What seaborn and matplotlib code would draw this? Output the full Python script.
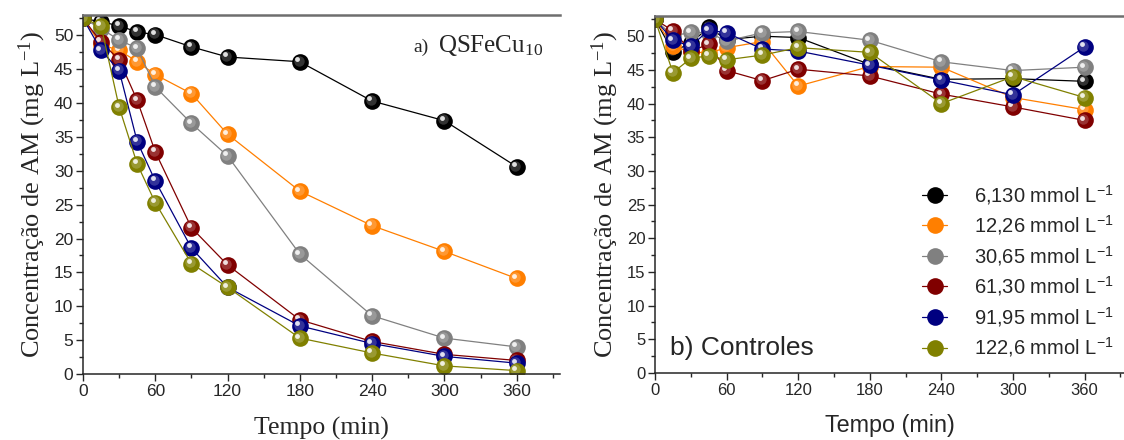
import pandas as pd
import matplotlib.pyplot as plt
import seaborn as sns
import numpy as np
from matplotlib.transforms import offset_copy
from matplotlib.lines import Line2D
from matplotlib.legend_handler import HandlerTuple
from matplotlib.ticker import MultipleLocator

# tempo de coleta (min)
tempo = [0, 15, 30, 45, 60, 90, 120, 180, 240, 300, 360]

rotulos = ['6,130 mmol L', '12,26 mmol L', '30,65 mmol L',
           '61,30 mmol L', '91,95 mmol L', '122,6 mmol L']

# a) QSFeCu10
qsfecu_613 = [52.5, 52.0, 51.4, 50.5, 50.1, 48.3, 46.8, 46.1, 40.3, 37.4, 30.6]
qsfecu_1226 = [52.5, 48.6, 47.8, 46.1, 44.2, 41.4, 35.4, 27.0, 21.9, 18.1, 14.1]
qsfecu_3065 = [52.5, 51.0, 49.3, 48.1, 42.4, 37.0, 32.2, 17.7, 8.6, 5.3, 4.0]
qsfecu_6130 = [52.5, 49.0, 46.4, 40.4, 32.8, 21.6, 16.1, 8.0, 4.8, 2.9, 2.0]
qsfecu_9195 = [52.5, 47.8, 44.8, 34.3, 28.5, 18.6, 12.8, 7.1, 4.5, 2.6, 1.6]
qsfecu_1226b = [52.5, 51.4, 39.4, 31.0, 25.3, 16.3, 12.8, 5.3, 3.1, 1.2, 0.5]

# b) Controles
ctrl_613 = [52.5, 47.7, 49.0, 51.3, 49.5, 50.0, 49.8, 45.8, 43.6, 43.7, 43.3]
ctrl_1226 = [52.5, 48.5, 47.7, 47.5, 48.3, 49.2, 42.6, 45.5, 45.4, 40.9, 39.1]
ctrl_3065 = [52.5, 50.0, 50.6, 50.5, 49.3, 50.5, 50.7, 49.4, 46.2, 44.9, 45.4]
ctrl_6130 = [52.5, 50.8, 47.8, 48.8, 44.9, 43.4, 45.1, 44.1, 41.4, 39.5, 37.5]
ctrl_9195 = [52.5, 49.4, 48.5, 50.9, 50.5, 48.1, 47.8, 45.7, 43.5, 41.3, 48.4]
ctrl_1226b = [52.5, 44.6, 46.7, 47.1, 46.5, 47.2, 48.3, 47.6, 40.0, 44.0, 40.9]

cores = ['black', '#ff7f00', '#808080', '#800000', '#000080', '#808000']

painel_a = [qsfecu_613, qsfecu_1226, qsfecu_3065, qsfecu_6130, qsfecu_9195, qsfecu_1226b]
painel_b = [ctrl_613, ctrl_1226, ctrl_3065, ctrl_6130, ctrl_9195, ctrl_1226b]

sns.set_style('ticks')
plt.rcParams['font.family'] = ['Liberation Sans', 'DejaVu Sans']
plt.rcParams['mathtext.default'] = 'regular'
serif = ['Liberation Serif', 'DejaVu Serif']

fig = plt.figure(figsize=(11.24, 4.4), dpi=100)
ax1 = fig.add_axes([83/1124, 1-374/440, 477/1124, 359/440])
ax2 = fig.add_axes([655/1124, 1-373/440, 469/1124, 357/440])


def esferas(ax, series):
    handles = []
    for vals, cor, rot in zip(series, cores, rotulos):
        df = pd.DataFrame({'Tempo': tempo, 'Conc': vals})
        sns.lineplot(data=df, x='Tempo', y='Conc', color=cor, lw=0.9,
                     marker='o', markersize=12, mec=cor, mew=0,
                     ax=ax, legend=False)
        # brilho da esfera
        tr1 = offset_copy(ax.transData, fig=fig, x=-1.2, y=1.2, units='dots')
        tr2 = offset_copy(ax.transData, fig=fig, x=-2.6, y=2.6, units='dots')
        ax.plot(tempo, vals, 'o', ms=7.5, color='white', alpha=0.2,
                mew=0, transform=tr1)
        ax.plot(tempo, vals, 'o', ms=3.5, color='white', alpha=0.85,
                mew=0, transform=tr2)
        h1 = Line2D([], [], color=cor, lw=0.9, marker='o', ms=12, mew=0)
        h2 = Line2D([], [], ls='none', marker='o', ms=3.5, color='white',
                    alpha=0.85, mew=0)
        handles.append((h1, h2))
    return handles


esferas(ax1, painel_a)
handles = esferas(ax2, painel_b)

for ax, lsize in ((ax1, 12.5), (ax2, 12)):
    ax.set_ylim(0, 53)
    ax.xaxis.set_major_locator(MultipleLocator(60))
    ax.xaxis.set_minor_locator(MultipleLocator(30))
    ax.yaxis.set_major_locator(MultipleLocator(5))
    ax.yaxis.set_minor_locator(MultipleLocator(2.5))
    ax.tick_params(which='major', length=5, width=1, labelsize=lsize, pad=2)
    ax.tick_params(which='minor', length=2.8, width=1)
    ax.spines['right'].set_visible(False)
    ax.spines['left'].set_linewidth(1.1)
    ax.spines['bottom'].set_linewidth(1.1)
    ax.spines['top'].set_color('#6e6e6e')
    ax.spines['top'].set_linewidth(1.8)
    ax.set_ylabel('Concentração de AM (mg L$^{-1}$)', family=serif,
                  fontsize=19, labelpad=4)

ax1.set_xlim(0, 396)
ax2.set_xlim(0, 393)

ax1.set_xlabel('Tempo (min)', family=serif, fontsize=18.5, labelpad=13)
ax2.set_xlabel('Tempo (min)', fontsize=16.8, labelpad=12)

ax1.text(0.692, 0.897, 'a)', transform=ax1.transAxes, family=serif,
         fontsize=14, va='baseline')
ax1.text(0.745, 0.897, 'QSFeCu$_{10}$', transform=ax1.transAxes,
         family=serif, fontsize=18, va='baseline')
ax2.text(0.032, 0.05, 'b) Controles', transform=ax2.transAxes,
         fontsize=19, va='baseline')

ax2.legend(handles, [r + '$^{-1}$' for r in rotulos],
           handler_map={tuple: HandlerTuple(ndivide=None)},
           loc='center left', bbox_to_anchor=(922/1124, 1-271/440),
           bbox_transform=fig.transFigure, frameon=False, fontsize=14.5,
           borderpad=0, borderaxespad=0, handlelength=2.5,
           handletextpad=0.1, labelspacing=0.33)

plt.savefig('out.png', dpi=100)
